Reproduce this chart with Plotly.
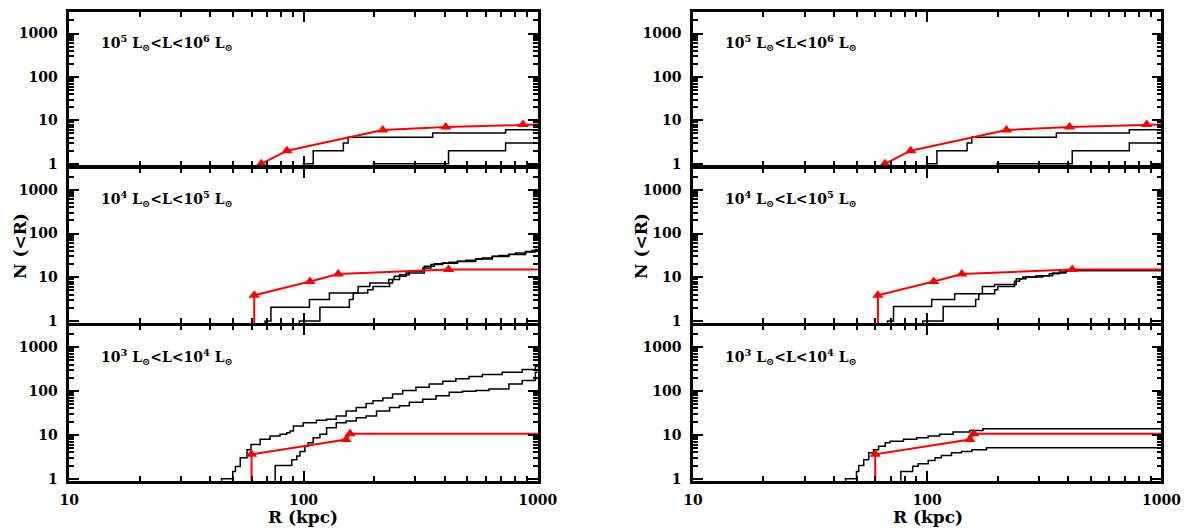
import plotly.graph_objects as go
from plotly.subplots import make_subplots

# ---------------- data ----------------
bin_labels = [
    "10<sup>5</sup> L<sub>⊙</sub>&lt;L&lt;10<sup>6</sup> L<sub>⊙</sub>",
    "10<sup>4</sup> L<sub>⊙</sub>&lt;L&lt;10<sup>5</sup> L<sub>⊙</sub>",
    "10<sup>3</sup> L<sub>⊙</sub>&lt;L&lt;10<sup>4</sup> L<sub>⊙</sub>",
]
x_tick_vals = [10, 100, 1000]
x_tick_text = ["<b>10</b>", "<b>100</b>", "<b>1000</b>"]
y_tick_vals = [1, 10, 100, 1000]
y_tick_text = ["<b>1</b>", "<b>10</b>", "<b>100</b>", "<b>1000</b>"]

# observed satellites (red triangles) - same in both columns
obs_top_R = [66, 85, 218, 405, 865]
obs_top_N = [1, 2, 6, 7, 8]
obs_mid_R = [61.6, 106.6, 140.6, 416]
obs_mid_N = [3.9, 8.0, 11.9, 15.0]
obs_bot_R = [60, 152, 158]
obs_bot_N = [3.6, 7.8, 10.6]

# top row model bands (same in both columns)
top_hi_R = [100, 110, 148, 155, 356, 729]
top_hi_N = [1, 2, 3, 4.1, 5.1, 6.1]
top_lo_R = [199, 416, 729]
top_lo_N = [1, 2, 3]

# middle row, left column
midL_hi_R = [68.6, 72.6, 106, 129, 171, 192, 231, 244, 274, 328, 361.7, 392.5, 418.8,
             454.3, 493, 543.7, 580, 640, 683, 753, 803, 887, 946, 977]
midL_hi_N = [1, 2.07, 3.1, 4.4, 6.2, 7.4, 8.9, 10.5, 12.6, 17.8, 20.5, 21.3, 22,
             23.2, 24.5, 26.3, 27.7, 30.2, 31.3, 33.5, 36, 38.6, 40.7, 42.9]
midL_lo_R = [96, 117.5, 157, 163, 188, 198, 233, 240, 257, 283, 323, 350, 392, 454,
             543, 640, 753, 887, 977]
midL_lo_N = [1, 2.07, 3.1, 4.4, 5.2, 6.2, 7.4, 8.9, 11.5, 13.7, 16.4, 19.5, 21, 22.8,
             26, 29.8, 33, 38, 42]

# middle row, right column
midR_hi_R = [67.7, 71.8, 104.5, 131, 172, 194, 240, 256, 292, 332, 366, 391]
midR_hi_N = [1, 2.14, 3.1, 4.2, 6.2, 6.8, 9.3, 10.2, 10.9, 12.1, 13.2, 14.2]
midR_lo_R = [95.7, 117, 161, 166, 194, 200, 236, 248, 264, 311, 343, 391]
midR_lo_N = [1, 2.14, 3.1, 4.2, 5.2, 6.2, 8.1, 9.2, 10.2, 10.9, 12.6, 14.2]

# bottom row, left column
botL_hi_R = [44.7, 49.9, 51.2, 53.7, 57.4, 59.7, 65.3, 72, 79.4, 84.8, 87.6, 90.6,
             99.8, 113.6, 125.5, 138, 152, 168, 185, 198, 218, 240, 265, 302, 344,
             393, 447, 509, 580, 705, 858, 977]
botL_hi_N = [1, 1.47, 1.9, 3.0, 4.6, 6.0, 7.9, 9.4, 10.3, 11.2, 12.2, 15.9,
             19, 21.5, 22.7, 27, 35, 42, 52, 60, 69, 85, 102, 121, 145,
             166, 189, 213, 237, 268, 309, 362]
botL_lo_R = [75.7, 89.1, 93.6, 96.6, 101.4, 104.7, 110, 117.5, 125.5, 138, 152, 168,
             185, 205, 233, 257, 283, 323, 368, 419, 477, 544, 619, 753, 858, 977]
botL_lo_N = [2.0, 2.7, 3.3, 4.2, 5.5, 6.6, 8.6, 10.3, 14.6, 19, 20.7, 24.7,
             27, 35, 42, 46, 55, 65, 78, 93, 98, 102, 111, 145, 173, 268]

# bottom row, right column
botR_hi_R = [44.8, 49.9, 51, 53.6, 56.3, 59, 62, 66.2, 69.5, 79.2, 90.2, 101, 113,
             129, 152, 173]
botR_hi_N = [1, 1.47, 2.0, 2.7, 3.9, 4.6, 5.5, 6.6, 7.2, 7.9, 8.6, 9.4, 10.3,
             11.6, 12.5, 13.8]
botR_lo_R = [77.2, 86.7, 91.6, 101, 108, 115, 127, 140, 155, 179]
botR_lo_N = [1.47, 1.92, 2.2, 2.6, 3.0, 3.4, 3.9, 4.2, 4.6, 5.1]

# ---------------- layout constants ----------------
W, H = 1184, 529
R_MAX = 1000          # right edge of the radial axis
N_FLOOR = 0.5         # just below the visible range: curves rise from here
LW = 2.5              # frame line width
X_RANGE = [1, 3]
Y_RANGE = [-0.045, 3.49]
COL_PX = [(68, 539), (691.7, 1162.7)]          # frame line centres
ROW_PX = [(11, 167), (167, 324.3), (324.3, 482)]
FONT = "DejaVu Serif"

fig = make_subplots(rows=3, cols=2)


def ax_index(r, c):
    return (r - 1) * 2 + c


def add_band(r, c, R, N):
    xs = [R[0]] + list(R) + [R_MAX]
    ys = [N_FLOOR] + list(N) + [N[-1]]
    fig.add_trace(go.Scatter(x=xs, y=ys, mode="lines",
                             line=dict(color="black", width=1.5, shape="hv"),
                             showlegend=False, hoverinfo="skip"), row=r, col=c)


def add_obs(r, c, R, N):
    xs = [R[0]] + list(R) + [R_MAX]
    ys = [N_FLOOR] + list(N) + [N[-1]]
    fig.add_trace(go.Scatter(x=xs, y=ys, mode="lines",
                             line=dict(color="#ff0000", width=2),
                             showlegend=False, hoverinfo="skip"), row=r, col=c)
    fig.add_trace(go.Scatter(x=R, y=N, mode="markers", cliponaxis=False,
                             marker=dict(symbol="triangle-up", size=10, color="#ff0000",
                                         line=dict(width=0)),
                             showlegend=False, hoverinfo="skip"), row=r, col=c)


panels = {
    (1, 1): ([(top_hi_R, top_hi_N), (top_lo_R, top_lo_N)], (obs_top_R, obs_top_N)),
    (1, 2): ([(top_hi_R, top_hi_N), (top_lo_R, top_lo_N)], (obs_top_R, obs_top_N)),
    (2, 1): ([(midL_hi_R, midL_hi_N), (midL_lo_R, midL_lo_N)], (obs_mid_R, obs_mid_N)),
    (2, 2): ([(midR_hi_R, midR_hi_N), (midR_lo_R, midR_lo_N)], (obs_mid_R, obs_mid_N)),
    (3, 1): ([(botL_hi_R, botL_hi_N), (botL_lo_R, botL_lo_N)], (obs_bot_R, obs_bot_N)),
    (3, 2): ([(botR_hi_R, botR_hi_N), (botR_lo_R, botR_lo_N)], (obs_bot_R, obs_bot_N)),
}

y_lo, y_hi = 10 ** Y_RANGE[0], 10 ** Y_RANGE[1]
minor_y = [m * 10 ** e for e in range(0, 4) for m in range(2, 10)
           if y_lo < m * 10 ** e < y_hi]
minor_x = [m * 10 ** e for e in range(1, 3) for m in range(2, 10)]

for (r, c), (bands, obs) in panels.items():
    for R, N in bands:
        add_band(r, c, R, N)
    add_obs(r, c, *obs)

    i = ax_index(r, c)
    sfx = "" if i == 1 else str(i)
    x0, x1 = COL_PX[c - 1]
    y0, y1 = ROW_PX[r - 1]
    # frame lines are drawn outside the plot area: inset by half a line width
    xd = [(x0 + LW / 2) / W, (x1 - LW / 2) / W]
    yd = [1 - (y1 - LW / 2) / H, 1 - (y0 + LW / 2) / H]
    common = dict(showline=True, linewidth=LW, linecolor="black", mirror="allticks",
                  ticks="inside", ticklen=10, tickwidth=2, tickcolor="black",
                  showgrid=False, zeroline=False, automargin=False,
                  tickfont=dict(family=FONT, size=14, color="black"))
    fig.update_layout({
        f"xaxis{sfx}": dict(type="log", range=X_RANGE, domain=xd,
                            tickvals=x_tick_vals, ticktext=x_tick_text,
                            showticklabels=(r == 3), ticklabelstandoff=5,
                            minor=dict(ticks="inside", ticklen=5, tickwidth=1.5,
                                       tickcolor="black", tickvals=minor_x, showgrid=False),
                            **common),
        f"yaxis{sfx}": dict(type="log", range=Y_RANGE, domain=yd,
                            tickvals=y_tick_vals, ticktext=y_tick_text,
                            ticklabelstandoff=6,
                            minor=dict(ticks="inside", ticklen=5, tickwidth=1.5,
                                       tickcolor="black", tickvals=minor_y, showgrid=False),
                            **common),
    })
    fig.add_annotation(text=bin_labels[r - 1], xref=f"x{sfx} domain", yref=f"y{sfx} domain",
                       x=0.064, y=0.80, xanchor="left", yanchor="middle", showarrow=False,
                       font=dict(family=FONT, size=14, color="black", weight="bold"))

for cx in [303 / W, 927.5 / W]:
    fig.add_annotation(text="R (kpc)", xref="paper", yref="paper", x=cx, y=1 - 517 / H,
                       xanchor="center", yanchor="middle", showarrow=False,
                       font=dict(family=FONT, size=17, color="black", weight="bold"))
for cx in [20 / W, 641 / W]:
    fig.add_annotation(text="N (&lt;R)", xref="paper", yref="paper", x=cx, y=1 - 246 / H,
                       xanchor="center", yanchor="middle", showarrow=False, textangle=-90,
                       font=dict(family=FONT, size=17, color="black", weight="bold"))

fig.update_layout(width=W, height=H,
                  margin=dict(l=0, r=0, t=0, b=0, pad=0, autoexpand=False),
                  autosize=False,
                  paper_bgcolor="white", plot_bgcolor="white", showlegend=False)

fig.write_html("out.html", config={"responsive": False})
